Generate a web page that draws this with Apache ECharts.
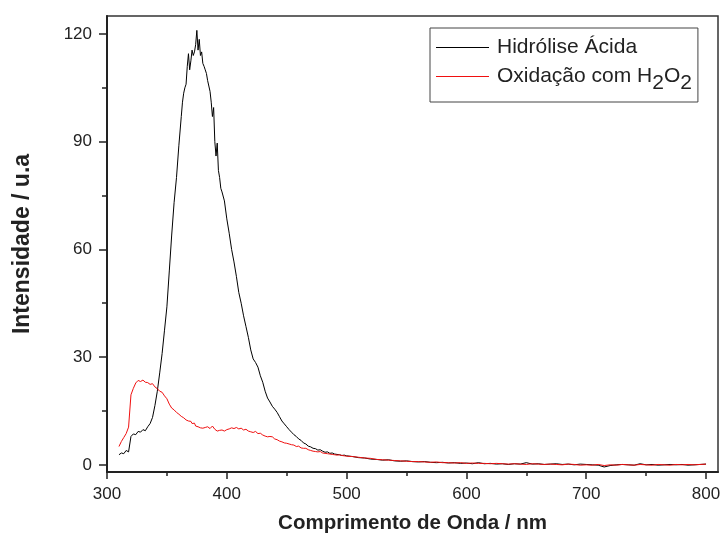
<!DOCTYPE html>
<html>
<head>
<meta charset="utf-8">
<script src="https://cdn.jsdelivr.net/npm/echarts@6/dist/echarts.min.js"></script>
<style>
html,body{margin:0;padding:0;background:#fff;}
#chart{width:722px;height:541px;}
</style>
</head>
<body>
<div id="chart"></div>
<script>
// Wavelength (nm)
const wavelength = [
  310,312,314,316,318,320,322,324,326,328,330,332,334,336,338,340,342,344,346,348,350,352,354,356,358,360,362,
  363,364,365,366,367,368,369,370,371,372,373,374,375,376,377,378,379,380,381,382,383,384,385,386,387,388,389,390,391,392,393,394,395,
  396,398,400,402,404,406,408,410,412,414,416,418,420,422,424,426,428,430,432,434,436,438,440,442,444,446,448,450,452,454,456,458,460,462,464,466,468,470,472,474,476,478,480,482,484,486,488,490,492,494,496,498,500,
  505,510,515,520,525,530,535,540,545,550,555,560,565,570,575,580,585,590,595,600,605,610,615,620,625,630,635,640,645,650,655,660,665,670,675,680,685,690,695,700,705,710,715,720,725,730,735,740,745,750,755,760,765,770,775,780,785,790,795,800
];
// Hidrólise Ácida intensity
const hidrolise = [
  2.8,3.3,3.1,4.0,3.6,7.9,8.6,8.4,9.3,9.1,9.8,9.5,10.6,11.5,13.2,16.5,20.5,25.6,31,37.5,44,54,64,73,80,89,97,
  101,103.5,105,106,111,114.5,110,112.5,115.5,114,115,117,121,115.5,118.5,114,115,111.8,111,110,109,107,105.5,104,101,97,99.5,90,86,89.6,82,80,77,
  76,73.5,68.5,64.5,60,56.5,52.5,48,45,41.5,38.5,35.5,32,29.5,28.5,27.2,24.8,23,20.5,18.6,17.5,16.3,15.5,14.6,13.4,12.2,11.4,10.6,9.8,9.1,8.4,7.9,7.2,6.8,6.1,5.8,5.2,5.0,4.6,4.5,4.1,4.2,3.8,3.5,3.6,3.2,3.3,3.0,2.9,2.8,2.6,2.7,2.5,
  2.3,2.0,1.9,1.6,1.5,1.3,1.4,1.1,1.0,1.1,0.9,0.8,0.9,0.7,0.6,0.7,0.5,0.6,0.4,0.5,0.3,0.6,0.3,0.4,0.2,0.3,0.1,0.3,0.2,0.6,0.2,0.3,0.1,0.2,0.3,0.1,0.2,0.0,0.2,0.1,0.0,-0.1,-0.6,-0.2,0.0,0.1,0.0,-0.1,0.3,0.0,0.1,-0.1,0.0,0.1,0.0,0.1,-0.1,0.0,0.1,0.2
];
// Oxidação com H2O2 intensity
const oxidacao = [
  5.1,6.5,7.6,8.7,10.5,19.5,21.3,22.8,23.5,23.2,23.6,23.0,22.9,22.4,22.6,21.7,21.2,20.5,20.2,19.2,18.4,16.9,15.8,15.3,14.6,14.1,13.5,
  13.8,13.1,12.9,12.5,12.7,12.2,11.8,12.1,11.5,11.2,11.6,10.8,11.0,10.6,10.9,10.3,10.5,10.2,10.7,10.4,10.0,10.6,10.3,10.1,10.6,10.8,10.4,9.9,10.1,9.4,9.8,9.6,9.9,
  9.7,9.4,9.8,10.0,10.3,10.1,10.4,10.0,10.2,9.7,9.9,9.4,9.2,9.0,9.3,8.7,8.8,8.3,8.0,7.8,7.9,7.8,7.2,7.0,6.6,6.4,6.1,6.0,5.8,5.6,5.5,5.1,5.2,4.7,4.6,4.6,4.2,4.0,3.8,3.7,3.6,3.7,3.3,3.2,3.1,3.0,2.9,2.8,2.7,2.8,2.6,2.5,2.4,
  2.3,2.1,1.9,1.8,1.5,1.4,1.3,1.2,1.1,1.0,0.9,0.9,0.8,0.7,0.8,0.6,0.6,0.5,0.6,0.4,0.5,0.4,0.4,0.3,0.4,0.3,0.2,0.3,0.2,0.1,0.3,0.2,0.1,0.2,0.1,0.0,0.2,0.1,-0.1,0.0,-0.1,0.1,-0.2,0.0,-0.1,0.1,0.0,-0.1,0.1,0.0,-0.1,0.1,0.0,-0.1,0.1,0.0,0.1,0.0,0.1,0.2
];
const seriesNames = ['Hidrólise Ácida', 'Oxidação com H2O2'];
const xMajorTicks = [300, 400, 500, 600, 700, 800];
const xMinorTicks = [350, 450, 550, 650, 750];
const yMajorTicks = [0, 30, 60, 90, 120];
const yMinorTicks = [15, 45, 75, 105];

const pairs = (ys) => wavelength.map((x, i) => [x, ys[i]]);
const FONT = 'Liberation Sans, Arial, sans-serif';
const chart = echarts.init(document.getElementById('chart'), null, {renderer: 'canvas'});
const axisLineStyle = {color: '#222', width: 2};
chart.setOption({
  animation: false,
  backgroundColor: '#fff',
  grid: {left: 107, right: 4, top: 16, bottom: 69, show: true, borderColor: '#333', borderWidth: 1.5,
         containLabel: false, outerBoundsMode: 'none'},
  legend: {
    orient: 'vertical', left: 430, top: 28,
    data: seriesNames, selectedMode: false,
    icon: 'rect', itemWidth: 53, itemHeight: 1, itemGap: 8,
    padding: [9, 6, 8, 6],
    borderColor: '#444', borderWidth: 1,
    textStyle: {fontFamily: FONT, fontSize: 21, color: '#222', padding: [0, 0, 0, 3],
      rich: {sub: {fontFamily: FONT, fontSize: 21, color: '#222', padding: [14, 0, 0, 0]},
             n: {fontFamily: FONT, fontSize: 21, color: '#222'}}},
    formatter: (name) => name === seriesNames[1] ? '{n|Oxidação com H}{sub|2}{n|O}{sub|2}' : name
  },
  xAxis: [{
    type: 'value', min: 300, max: 810, position: 'bottom',
    name: 'Comprimento de Onda / nm', nameLocation: 'middle', nameGap: 41,
    nameTextStyle: {fontFamily: FONT, fontSize: 20.5, fontWeight: 'bold', color: '#222'},
    axisLine: {show: true, onZero: false, lineStyle: axisLineStyle},
    axisTick: {show: true, inside: false, length: 7, lineStyle: {color: '#222', width: 1.5}, customValues: xMajorTicks},
    axisLabel: {show: true, margin: 14, fontFamily: FONT, fontSize: 17, color: '#222', customValues: xMajorTicks},
    splitLine: {show: false}
  }, {
    type: 'value', min: 300, max: 810, position: 'bottom', offset: 0,
    axisLine: {show: false, onZero: false},
    axisTick: {show: true, inside: false, length: 4, lineStyle: {color: '#222', width: 1.5}, customValues: xMinorTicks},
    axisLabel: {show: false}, splitLine: {show: false}
  }],
  yAxis: [{
    type: 'value', min: -2, max: 125, position: 'left',
    name: 'Intensidade / u.a', nameLocation: 'middle', nameGap: 73, nameRotate: 90,
    nameTextStyle: {fontFamily: FONT, fontSize: 23, fontWeight: 'bold', color: '#222'},
    axisLine: {show: true, onZero: false, lineStyle: axisLineStyle},
    axisTick: {show: true, inside: false, length: 8, lineStyle: {color: '#222', width: 1.5}, customValues: yMajorTicks},
    axisLabel: {show: true, margin: 15, fontFamily: FONT, fontSize: 17, color: '#222', customValues: yMajorTicks},
    splitLine: {show: false}
  }, {
    type: 'value', min: -2, max: 125, position: 'left', offset: 0,
    axisLine: {show: false, onZero: false},
    axisTick: {show: true, inside: false, length: 5, lineStyle: {color: '#222', width: 1.5}, customValues: yMinorTicks},
    axisLabel: {show: false}, splitLine: {show: false}
  }],
  series: [{
    name: seriesNames[0], type: 'line', data: pairs(hidrolise),
    xAxisIndex: 0, yAxisIndex: 0, symbol: 'none', showSymbol: false,
    lineStyle: {color: '#000', width: 1}, itemStyle: {color: '#000'}
  }, {
    name: seriesNames[1], type: 'line', data: pairs(oxidacao),
    xAxisIndex: 0, yAxisIndex: 0, symbol: 'none', showSymbol: false,
    lineStyle: {color: '#f01010', width: 1}, itemStyle: {color: '#f01010'}
  }]
});
</script>
</body>
</html>
